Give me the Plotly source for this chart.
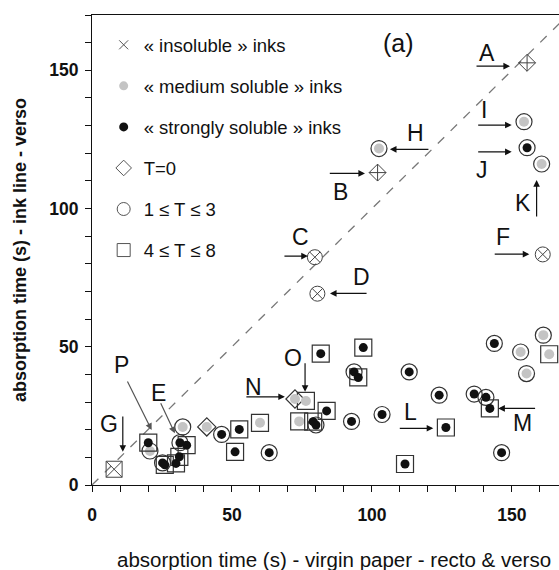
import plotly.graph_objects as go

# ---- data ----
# solubility class: "ins" = insoluble, "med" = medium soluble, "str" = strongly soluble
# shape class: "d" = T=0 (diamond), "c" = 1<=T<=3 (circle), "s" = 4<=T<=8 (square)
ins_x = [155.4, 102.0, 79.6, 80.5, 161.0, 7.9]
ins_y = [152.7, 113.0, 82.4, 69.2, 83.4, 5.7]
ins_shape = ["d", "d", "c", "c", "c", "s"]

med_x = [102.5, 154.3, 160.6, 161.2, 153.1, 163.3, 155.2, 72.5, 76.4, 74.0, 20.7, 32.4, 41.0, 60.0]
med_y = [121.7, 131.4, 116.1, 54.2, 48.1, 47.3, 40.3, 31.1, 30.4, 23.0, 12.3, 21.0, 21.0, 22.5]
med_shape = ["c", "c", "c", "c", "c", "s", "c", "d", "s", "s", "c", "c", "d", "s"]

str_x = [155.4, 81.7, 96.9, 93.6, 95.1, 113.3, 124.0, 136.5, 140.7, 142.1, 143.7, 126.4, 146.3,
         111.8, 103.6, 92.7, 83.8, 80.0, 79.0, 20.1, 25.2, 26.0, 30.0, 31.2, 33.8, 31.4, 46.3,
         52.6, 51.1, 63.3]
str_y = [122.0, 47.5, 49.7, 40.9, 38.9, 40.9, 32.5, 32.9, 31.7, 27.7, 51.2, 20.8, 11.7,
         7.6, 25.5, 23.0, 26.8, 21.7, 22.9, 15.3, 8.0, 7.3, 7.8, 10.2, 14.4, 15.3, 18.3,
         20.1, 12.0, 11.7]
str_shape = ["c", "s", "s", "c", "s", "c", "c", "c", "c", "s", "c", "s", "c",
             "s", "c", "c", "s", "c", "s", "s", "c", "s", "s", "s", "s", "c", "c",
             "s", "s", "c"]

legend_labels = ["« insoluble » inks", "« medium soluble » inks", "« strongly soluble » inks",
                 "T=0", "1 ≤ T ≤ 3", "4 ≤ T ≤ 8"]

# point labels: letter, text position, arrow tail, arrow head
labels = ["A", "I", "J", "K", "F", "H", "B", "C", "D", "O", "L", "M", "N", "P", "E", "G"]
label_pos = [(141, 156.2), (140, 135.6), (139.2, 113.9), (154, 102), (146.7, 89.8),
             (115.4, 127.2), (88.6, 106.1), (74.3, 89.7), (96.1, 75.2), (71.9, 45.8),
             (113.6, 26.5), (153.8, 22.3), (57.6, 35.6), (10.6, 43.4), (23.7, 33.2), (6.2, 22)]
arrow_tail = [(136.8, 151.5), (137.4, 130.2), (137.4, 120.5), (158.8, 96.6), (143.3, 83.5),
              (120.7, 121.4), (84.4, 112.7), (68.2, 82.8), (98.6, 69.3), (76.1, 44.6),
              (109.4, 20.5), (158.8, 27.7), (54.6, 31.9), (12.4, 38.0), (24.3, 30.1), (11.0, 25.3)]
arrow_head = [(149.3, 151.5), (149.9, 130.2), (149.9, 120.5), (158.8, 110.3), (156.2, 83.5),
              (106.4, 121.4), (97.5, 112.7), (77.1, 82.8), (85.0, 69.3), (76.1, 33.7),
              (121.9, 20.5), (145.1, 27.7), (68.9, 31.9), (21.3, 19.9), (29.6, 18.7), (11.0, 12.0)]
arrow_gray = ["P", "E"]

# ---- styles ----
FONT = "Liberation Sans, Arial, sans-serif"
OUT = "#333333"
GRAY_DOT = "#c4c4c4"
shape_sym = {"d": "diamond-open", "c": "circle-open", "s": "square-open"}
shape_size = {"d": 14, "c": 16, "s": 17}
ins_sym = {"d": "diamond-cross-open", "c": "circle-x-open", "s": "square-x-open"}

fig = go.Figure()

# diagonal y = x
fig.add_trace(go.Scatter(x=[0, 170], y=[0, 170], mode="lines",
                         line=dict(color="#777777", width=1.3, dash="dash"),
                         showlegend=False, hoverinfo="skip"))


def add_group(xs, ys, shapes, kind):
    for sh in ["d", "c", "s"]:
        px = [x for x, s in zip(xs, shapes) if s == sh]
        py = [y for y, s in zip(ys, shapes) if s == sh]
        if not px:
            continue
        if kind == "ins":
            fig.add_trace(go.Scatter(x=px, y=py, mode="markers", showlegend=False,
                                     marker=dict(symbol=ins_sym[sh], size=shape_size[sh] - 1,
                                                 color="#444444", line=dict(width=1, color="#444444"))))
        else:
            fig.add_trace(go.Scatter(x=px, y=py, mode="markers", showlegend=False,
                                     marker=dict(symbol=shape_sym[sh], size=shape_size[sh],
                                                 color=OUT, line=dict(width=1.2, color=OUT))))
    if kind == "ins":
        return
    fill = GRAY_DOT if kind == "med" else "#111111"
    fig.add_trace(go.Scatter(x=xs, y=ys, mode="markers", showlegend=False,
                             marker=dict(symbol="circle", size=9 if kind == "str" else 10,
                                         color=fill, line=dict(width=0))))


add_group(med_x, med_y, med_shape, "med")
add_group(str_x, str_y, str_shape, "str")
add_group(ins_x, ins_y, ins_shape, "ins")

# legend entries
leg_markers = [
    dict(symbol="x-thin-open", size=9, color="#555555", line=dict(width=1, color="#555555")),
    dict(symbol="circle", size=9, color=GRAY_DOT, line=dict(width=0)),
    dict(symbol="circle", size=9, color="#111111", line=dict(width=0)),
    dict(symbol="diamond-open", size=12, color="#555555", line=dict(width=1, color="#555555")),
    dict(symbol="circle-open", size=13, color="#555555", line=dict(width=1, color="#555555")),
    dict(symbol="square-open", size=13, color="#555555", line=dict(width=1, color="#555555")),
]
for i, (lab, mk) in enumerate(zip(legend_labels, leg_markers)):
    fig.add_trace(go.Scatter(x=[None], y=[None], mode="markers", name=lab, marker=mk,
                             legendgroup=f"g{i}", showlegend=True))

annotations = []
for lab, (tx, ty), (ax, ay), (hx, hy) in zip(labels, label_pos, arrow_tail, arrow_head):
    annotations.append(dict(x=tx, y=ty, xref="x", yref="y", text=lab, showarrow=False,
                            font=dict(family=FONT, size=23, color="#111111")))
    col = "#555555" if lab in arrow_gray else "#111111"
    annotations.append(dict(x=hx, y=hy, ax=ax, ay=ay, xref="x", yref="y", axref="x", ayref="y",
                            text="", showarrow=True, arrowhead=2, arrowsize=1.1, arrowwidth=1.2,
                            arrowcolor=col, standoff=0, startstandoff=0))

annotations.append(dict(x=109.4, y=159.7, xref="x", yref="y", text="(a)", showarrow=False,
                        font=dict(family=FONT, size=25, color="#111111")))
annotations.append(dict(x=0.518, y=-0.158, xref="paper", yref="paper", xanchor="center",
                        yanchor="middle", showarrow=False,
                        text="absorption time (s) - virgin paper - recto & verso",
                        font=dict(family=FONT, size=20.5, color="#111111")))

fig.update_layout(
    width=559, height=570,
    margin=dict(l=92, r=0, t=15, b=85, autoexpand=False),
    paper_bgcolor="white", plot_bgcolor="white",
    font=dict(family=FONT, size=16, color="#111111"),
    annotations=annotations,
    legend=dict(x=0.025, y=0.976, xanchor="left", yanchor="top",
                font=dict(family=FONT, size=18.5, color="#111111"),
                bgcolor="rgba(0,0,0,0)", tracegroupgap=14, itemwidth=30),
)
fig.update_xaxes(range=[0, 166.8], showgrid=False, zeroline=False, automargin=False,
                 showline=True, linecolor="#111111", linewidth=1.2, mirror=True,
                 ticks="outside", ticklen=6, tickcolor="#111111", tickwidth=1,
                 tickvals=[0, 50, 100, 150], ticklabelstandoff=8,
                 minor=dict(dtick=10, ticks="outside", ticklen=6, tickcolor="#111111", tickwidth=1),
                 tickfont=dict(family=FONT, size=17.5, weight="bold", color="#111111"))
fig.update_yaxes(range=[0, 170], showgrid=False, zeroline=False, automargin=False,
                 showline=True, linecolor="#111111", linewidth=1.2, mirror=False,
                 ticks="outside", ticklen=6, tickcolor="#111111", tickwidth=1,
                 tickvals=[0, 50, 100, 150], ticklabelstandoff=3,
                 minor=dict(dtick=10, ticks="outside", ticklen=6, tickcolor="#111111", tickwidth=1),
                 tickfont=dict(family=FONT, size=17.5, weight="bold", color="#111111"),
                 title=dict(text="absorption time (s) - ink line - verso", standoff=17,
                            font=dict(family=FONT, size=18, weight="bold", color="#111111")))

fig.write_html("out.html", config={"displayModeBar": False},
               post_script="document.body.style.margin='0';document.body.style.overflow='hidden';")
